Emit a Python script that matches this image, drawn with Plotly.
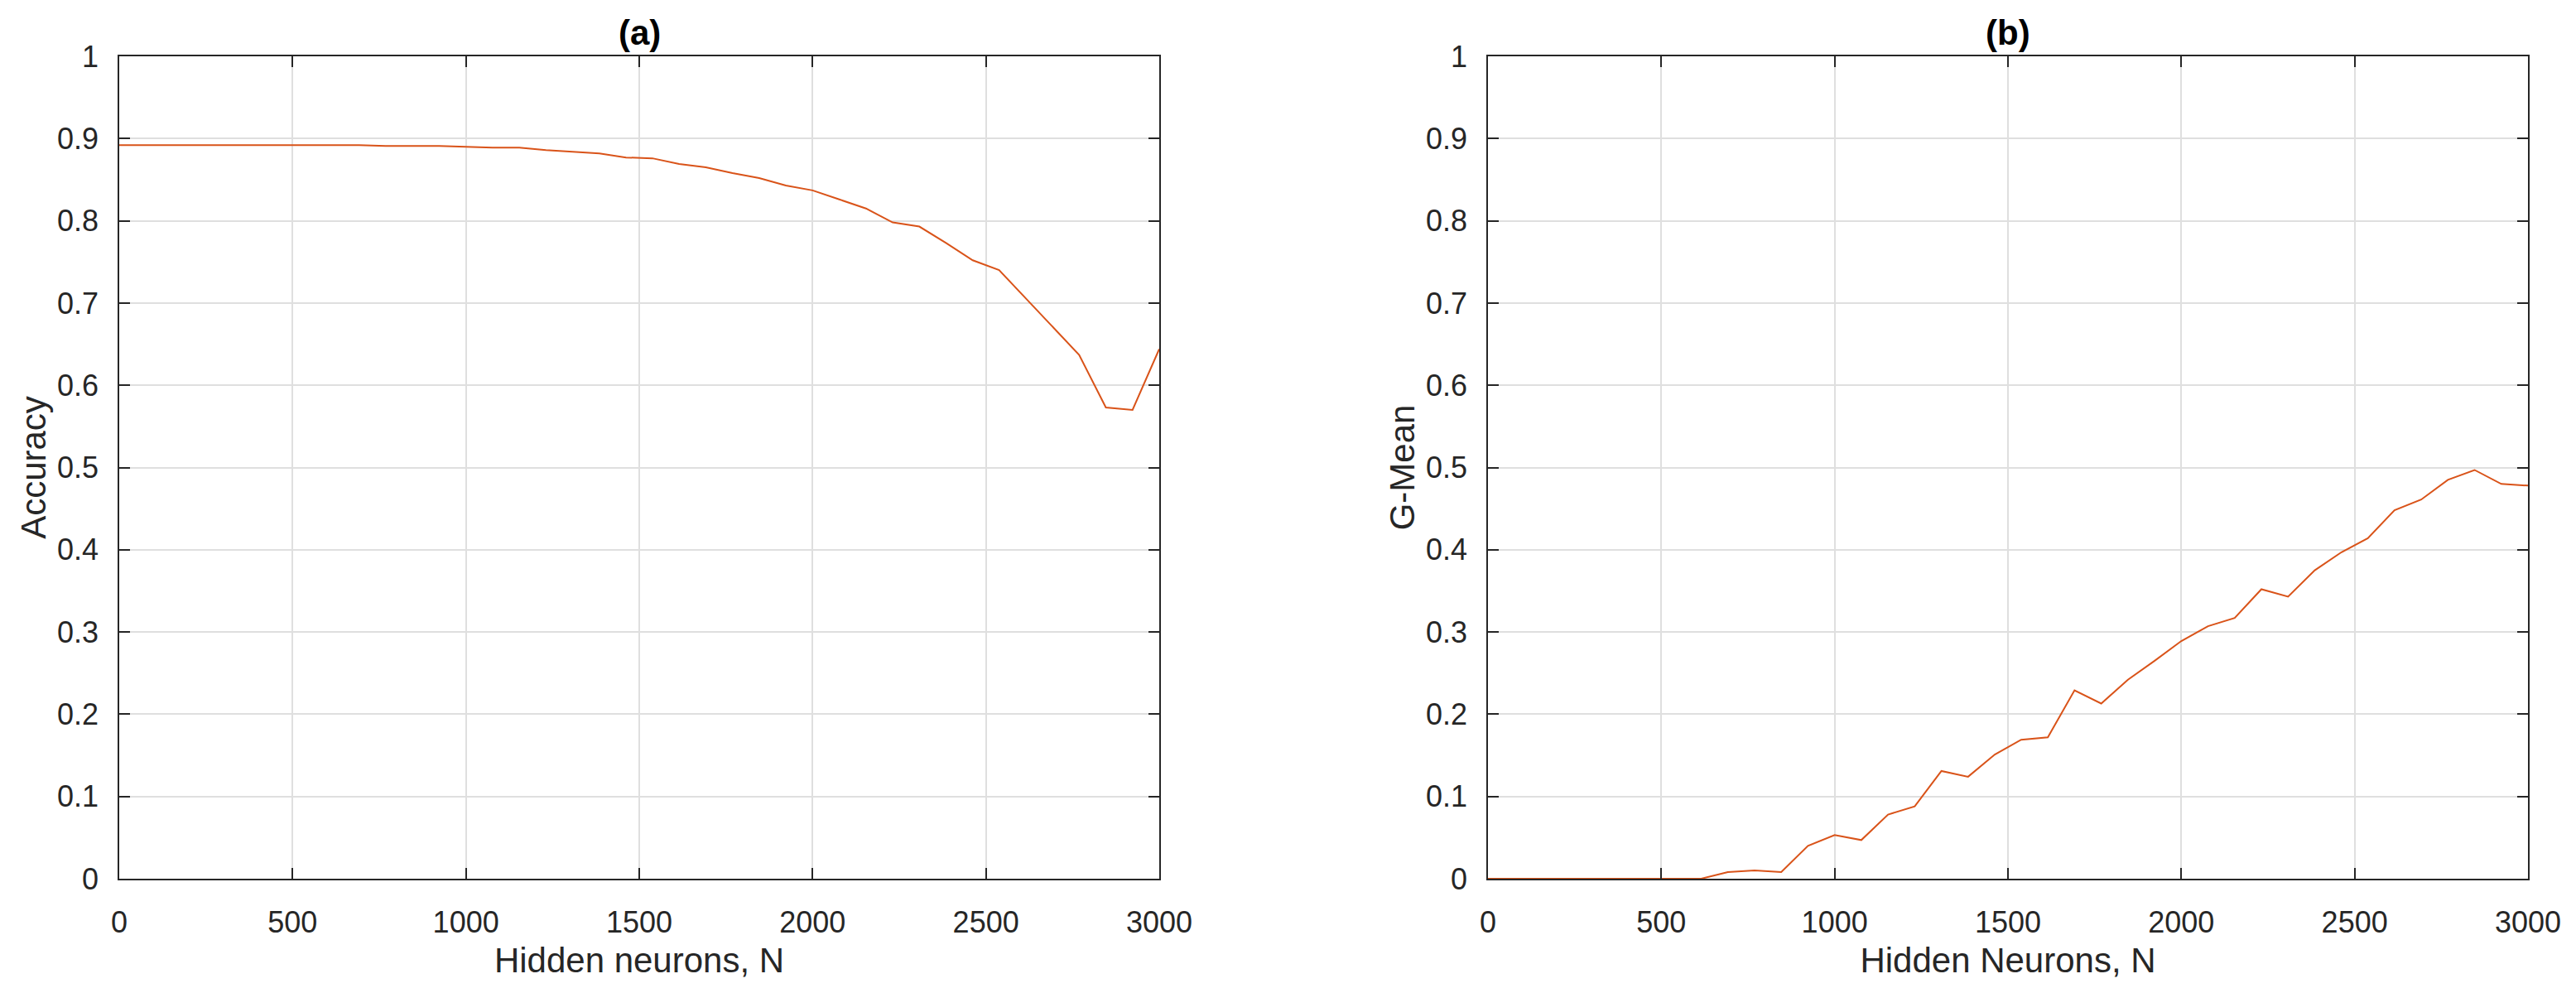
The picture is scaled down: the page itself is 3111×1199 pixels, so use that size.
import plotly.graph_objects as go

hidden_neurons = [0, 77, 154, 231, 308, 385, 462, 538, 615, 692, 769, 846, 923, 1000,
                  1077, 1154, 1231, 1308, 1385, 1462, 1538, 1615, 1692, 1769, 1846, 1923,
                  2000, 2077, 2154, 2231, 2308, 2385, 2462, 2538, 2615, 2692, 2769, 2846,
                  2923, 3000]

accuracy = [0.892, 0.892, 0.892, 0.892, 0.892, 0.892, 0.892, 0.892, 0.892, 0.892,
            0.891, 0.891, 0.891, 0.890, 0.889, 0.889, 0.886, 0.884, 0.882, 0.877,
            0.876, 0.869, 0.865, 0.858, 0.852, 0.843, 0.837, 0.826, 0.815, 0.798,
            0.793, 0.773, 0.752, 0.740, 0.706, 0.671, 0.637, 0.573, 0.570, 0.644]

g_mean = [0.0, 0.0, 0.0, 0.0, 0.0, 0.0, 0.0, 0.0, 0.0, 0.008,
          0.010, 0.008, 0.040, 0.053, 0.047, 0.078, 0.088, 0.131, 0.124, 0.151,
          0.169, 0.172, 0.229, 0.213, 0.242, 0.265, 0.289, 0.307, 0.317, 0.352,
          0.343, 0.375, 0.397, 0.414, 0.448, 0.461, 0.485, 0.497, 0.480, 0.478]

x_ticks = [0, 500, 1000, 1500, 2000, 2500, 3000]
y_ticks = [0, 0.1, 0.2, 0.3, 0.4, 0.5, 0.6, 0.7, 0.8, 0.9, 1]
y_tick_text = ["0", "0.1", "0.2", "0.3", "0.4", "0.5", "0.6", "0.7", "0.8", "0.9", "1"]

W, H = 3111, 1199
FONT = "Liberation Sans, Arial, Helvetica, sans-serif"
TXT = "#262626"
LINE = "#D95319"

fig = go.Figure()
fig.add_trace(go.Scatter(x=hidden_neurons, y=accuracy, mode="lines",
                         line=dict(color=LINE, width=2), xaxis="x", yaxis="y",
                         name="Accuracy", showlegend=False))
fig.add_trace(go.Scatter(x=hidden_neurons, y=g_mean, mode="lines",
                         line=dict(color=LINE, width=2), xaxis="x2", yaxis="y2",
                         name="G-Mean", showlegend=False))

y0, y1 = (H - 1061) / H, (H - 68) / H
dom_a = [144 / W, 1400 / W]
dom_b = [1797 / W, 3053 / W]

common_x = dict(range=[0, 3000], tickvals=x_ticks, ticks="inside", ticklen=13,
                tickwidth=1.5, tickcolor=TXT, showline=True, linecolor=TXT,
                linewidth=1.6, mirror="ticks", showgrid=True, gridcolor="#dfdfdf",
                gridwidth=1.5, zeroline=False, ticklabelstandoff=20, automargin=False,
                tickfont=dict(family=FONT, size=36, color=TXT))
common_y = dict(range=[0, 1], tickvals=y_ticks, ticktext=y_tick_text, ticks="inside",
                ticklen=13, tickwidth=1.5, tickcolor=TXT, showline=True, linecolor=TXT,
                linewidth=1.6, mirror="ticks", showgrid=True, gridcolor="#dfdfdf",
                gridwidth=1.5, zeroline=False, ticklabelstandoff=16, automargin=False,
                tickfont=dict(family=FONT, size=36, color=TXT))

fig.update_layout(
    width=W, height=H,
    margin=dict(l=0, r=0, t=0, b=0),
    paper_bgcolor="white", plot_bgcolor="white",
    font=dict(family=FONT, color=TXT),
    xaxis=dict(domain=dom_a, anchor="y",
               title=dict(text="Hidden neurons, N", font=dict(family=FONT, size=42, color=TXT),
                          standoff=12), **common_x),
    yaxis=dict(domain=[y0, y1], anchor="x",
               title=dict(text="Accuracy", font=dict(family=FONT, size=42, color=TXT),
                          standoff=0), **common_y),
    xaxis2=dict(domain=dom_b, anchor="y2",
                title=dict(text="Hidden Neurons, N", font=dict(family=FONT, size=42, color=TXT),
                           standoff=12), **common_x),
    yaxis2=dict(domain=[y0, y1], anchor="x2",
                title=dict(text="G-Mean", font=dict(family=FONT, size=42, color=TXT),
                           standoff=0), **common_y),
    annotations=[
        dict(text="<b>(a)</b>", x=(dom_a[0] + dom_a[1]) / 2, y=(H - 40) / H,
             xref="paper", yref="paper", showarrow=False, xanchor="center", yanchor="middle",
             font=dict(family=FONT, size=42, color="#000000")),
        dict(text="<b>(b)</b>", x=(dom_b[0] + dom_b[1]) / 2, y=(H - 40) / H,
             xref="paper", yref="paper", showarrow=False, xanchor="center", yanchor="middle",
             font=dict(family=FONT, size=42, color="#000000")),
    ],
)

fig.write_html("out.html", config={"displayModeBar": False},
               post_script="document.body.style.margin='0';")
